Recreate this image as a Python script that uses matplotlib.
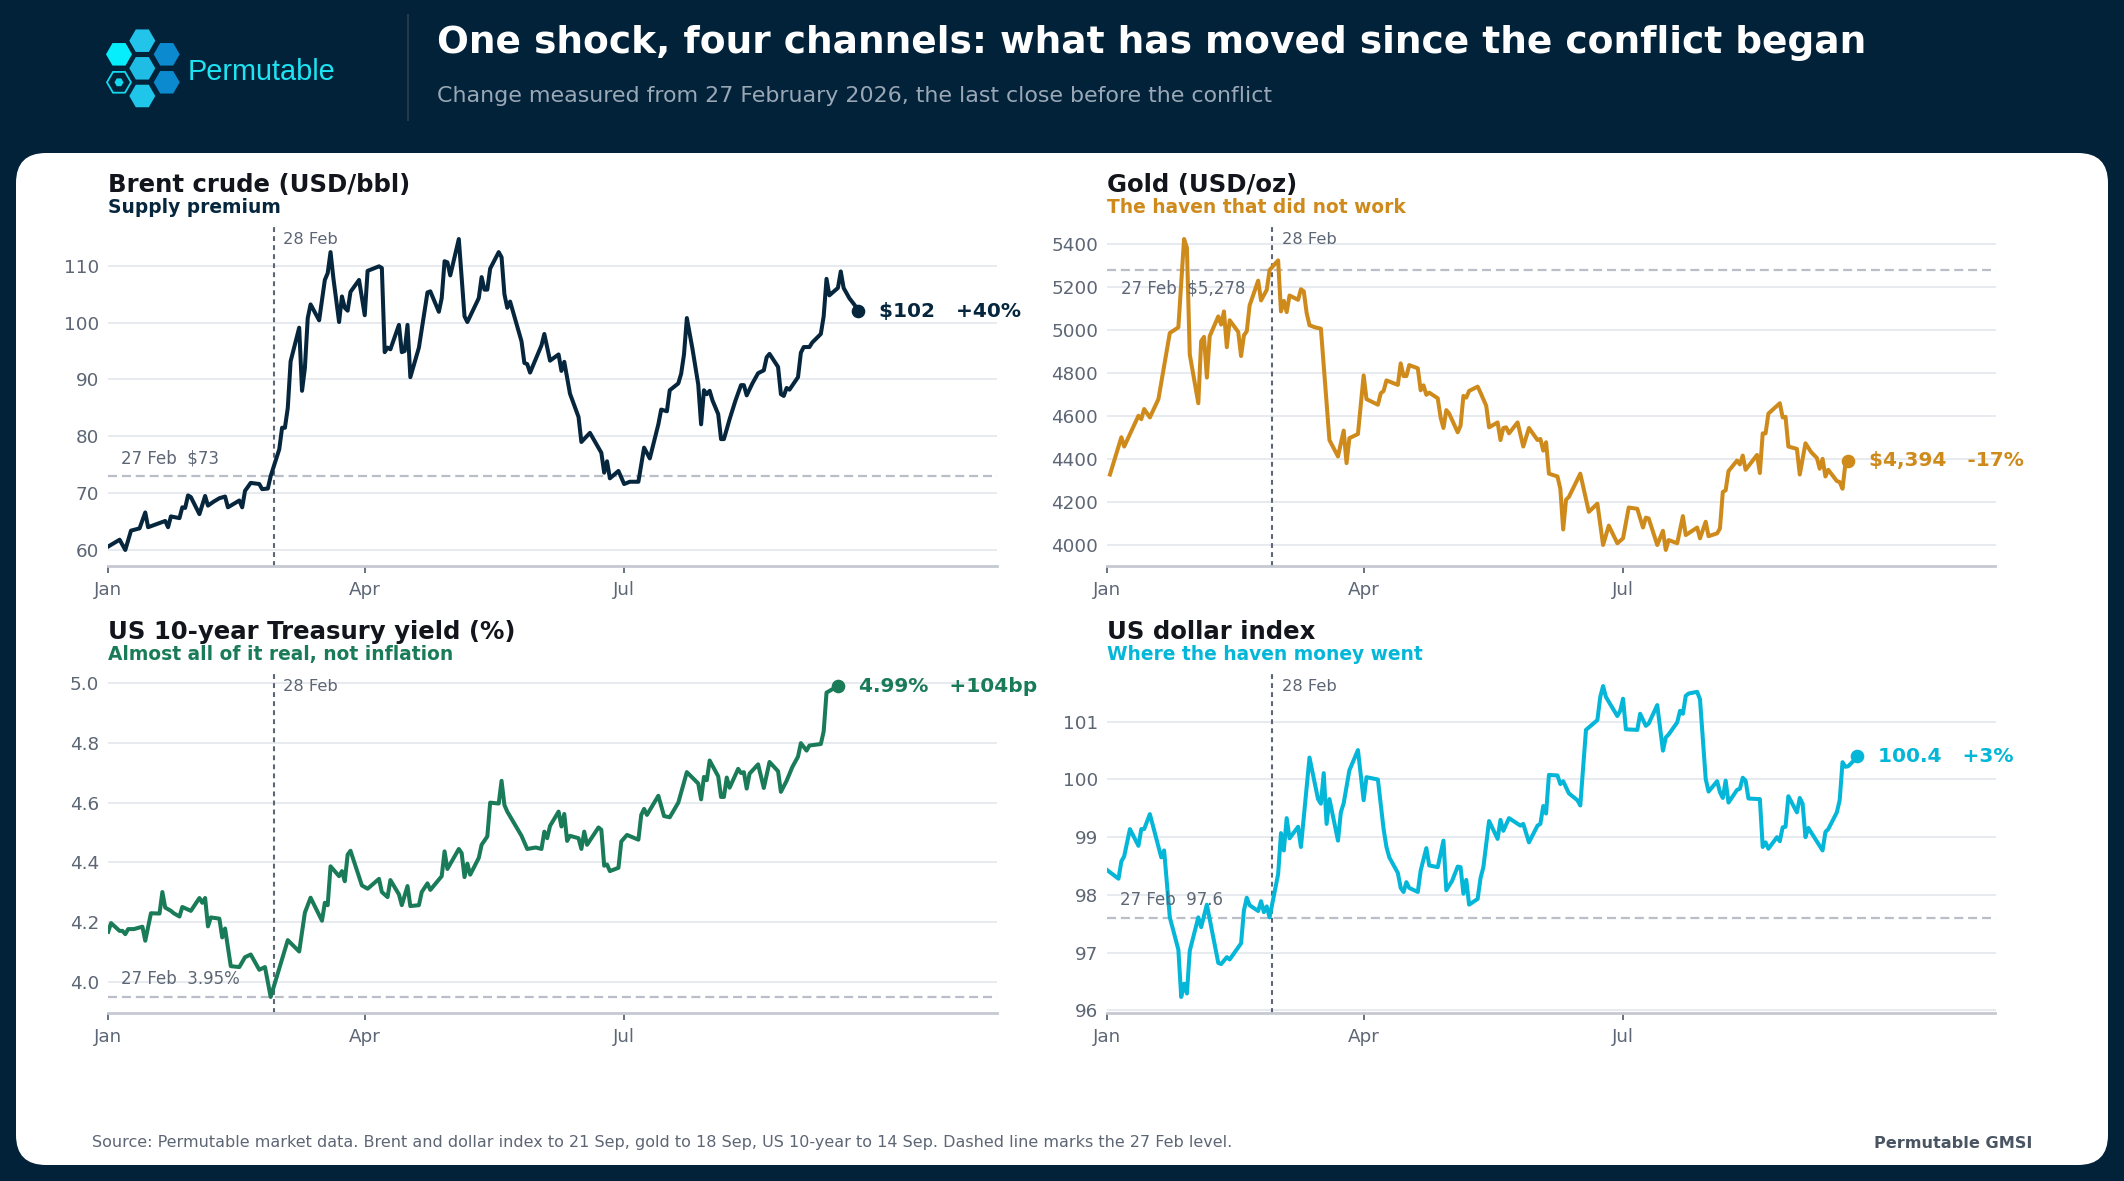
import matplotlib
matplotlib.use("Agg")
import matplotlib.pyplot as plt
from matplotlib.patches import FancyBboxPatch, RegularPolygon
from matplotlib.ticker import MultipleLocator, FormatStrFormatter
import matplotlib.dates as mdates
import numpy as np
import pandas as pd

plt.rcParams['font.family'] = ['DejaVu Sans']
plt.rcParams['lines.scale_dashes'] = False

START = pd.Timestamp("2026-01-01")
SHOCK = pd.Timestamp("2026-02-28")
XEND = pd.Timestamp("2026-11-08 16:00")

# ---- data: day = days since 1 Jan 2026 ----
brent_day = [0, 4, 6, 8, 11, 13, 14, 20, 21, 22,
             25, 26, 27, 28, 29, 32, 34, 35, 37, 39,
             41, 42, 46, 47, 48, 50, 53, 54, 56, 57,
             60, 61, 62, 63, 64, 67, 68, 69, 70, 71,
             74, 76, 77, 78, 79, 81, 82, 83, 84, 85,
             88, 90, 91, 95, 96, 97, 98, 99, 102, 103,
             104, 105, 106, 109, 112, 113, 116, 117, 118, 119,
             120, 123, 125, 126, 130, 131, 132, 133, 134, 137,
             138, 139, 140, 141, 145, 146, 147, 148, 152, 153,
             155, 158, 159, 160, 162, 165, 166, 169, 173, 174,
             175, 176, 179, 181, 183, 186, 188, 190, 193, 194,
             196, 197, 200, 201, 202, 203, 205, 207, 208, 209,
             210, 211, 212, 214, 215, 216, 218, 220, 222, 223,
             224, 226, 228, 230, 231, 232, 235, 236, 237, 238,
             239, 242, 243, 244, 246, 247, 248, 250, 251, 252,
             253, 256, 257, 258, 260, 262, 263]
brent_val = [60.6, 61.8, 60.0, 63.4, 63.8, 66.6, 64.0, 65.1, 64.0, 65.9,
             65.6, 67.5, 67.4, 69.6, 69.3, 66.3, 69.5, 67.8, 68.5, 69.1,
             69.4, 67.5, 68.7, 67.5, 70.4, 71.8, 71.6, 70.7, 70.8, 73.0,
             77.7, 81.5, 81.5, 85.0, 93.2, 99.1, 88.0, 92.0, 100.8, 103.2,
             100.4, 107.5, 108.7, 112.4, 107.8, 100.1, 104.6, 102.6, 102.1, 105.4,
             107.5, 101.3, 109.1, 109.9, 109.6, 94.8, 95.6, 95.3, 99.6, 94.8,
             95.0, 99.6, 90.4, 95.6, 105.3, 105.5, 101.9, 104.3, 110.8, 110.6,
             108.3, 114.7, 101.1, 100.1, 104.3, 108.0, 105.8, 105.8, 109.5, 112.4,
             111.5, 105.0, 102.6, 103.7, 96.7, 92.9, 92.7, 91.2, 96.0, 98.0,
             93.3, 94.4, 91.5, 93.1, 87.5, 83.4, 79.0, 80.6, 77.1, 73.6,
             75.6, 72.6, 73.9, 71.6, 72.0, 72.0, 78.0, 76.1, 82.1, 84.7,
             84.4, 88.1, 89.3, 91.0, 94.4, 100.8, 95.3, 89.1, 82.1, 88.1,
             87.4, 88.0, 86.3, 83.9, 79.5, 79.5, 83.0, 86.2, 89.0, 89.0,
             87.2, 89.3, 91.1, 91.6, 93.9, 94.5, 92.2, 87.4, 87.1, 88.5,
             88.2, 90.4, 94.7, 95.7, 95.7, 96.5, 97.0, 98.0, 101.1, 107.7,
             104.8, 106.1, 109.0, 106.1, 104.3, 103.0, 102.0]

gold_day = [1, 5, 6, 11, 12, 13, 15, 18, 20, 22,
            25, 27, 28, 29, 32, 33, 34, 35, 36, 39,
            40, 41, 42, 43, 46, 47, 48, 49, 50, 53,
            54, 56, 57, 60, 61, 62, 63, 64, 67, 68,
            69, 70, 71, 73, 75, 78, 81, 83, 84, 85,
            88, 90, 91, 95, 96, 97, 98, 102, 103, 104,
            105, 106, 109, 110, 111, 112, 113, 116, 117, 118,
            119, 120, 123, 124, 125, 126, 127, 130, 131, 133,
            134, 137, 138, 139, 140, 141, 144, 146, 148, 151,
            152, 153, 154, 155, 158, 159, 160, 161, 162, 166,
            169, 172, 174, 176, 179, 181, 183, 186, 188, 189,
            190, 193, 195, 196, 197, 200, 202, 203, 207, 208,
            210, 211, 214, 215, 216, 217, 218, 221, 222, 223,
            224, 228, 229, 230, 231, 232, 236, 237, 238, 239,
            242, 243, 245, 247, 249, 250, 251, 252, 253, 256,
            257, 258, 259, 260]
gold_val = [4329, 4502, 4459, 4602, 4586, 4633, 4594, 4679, 4832, 4986,
            5012, 5422, 5382, 4886, 4660, 4948, 4968, 4779, 4971, 5063,
            5025, 5086, 4920, 5045, 4991, 4879, 4975, 4994, 5114, 5229,
            5137, 5186, 5278, 5323, 5086, 5135, 5083, 5160, 5140, 5189,
            5179, 5079, 5022, 5012, 5006, 4489, 4413, 4533, 4382, 4498,
            4517, 4789, 4679, 4653, 4706, 4717, 4766, 4745, 4845, 4786,
            4786, 4837, 4822, 4720, 4743, 4699, 4709, 4683, 4594, 4545,
            4628, 4612, 4525, 4556, 4694, 4686, 4717, 4737, 4709, 4648,
            4548, 4571, 4489, 4545, 4548, 4520, 4571, 4459, 4545, 4489,
            4494, 4440, 4479, 4333, 4320, 4263, 4074, 4212, 4225, 4333,
            4156, 4194, 4002, 4092, 4010, 4033, 4176, 4170, 4083, 4129,
            4125, 4002, 4068, 3979, 4025, 4010, 4136, 4048, 4083, 4033,
            4110, 4043, 4056, 4079, 4248, 4256, 4345, 4394, 4376, 4417,
            4351, 4420, 4336, 4520, 4520, 4612, 4660, 4594, 4597, 4459,
            4448, 4329, 4474, 4433, 4406, 4356, 4402, 4320, 4351, 4299,
            4294, 4263, 4379, 4394]

ust_day = [0, 1, 4, 5, 6, 7, 9, 12, 13, 15,
           18, 19, 20, 22, 23, 25, 26, 29, 32, 33,
           34, 35, 36, 39, 40, 41, 43, 46, 48, 50,
           53, 55, 57, 63, 67, 69, 71, 75, 76, 77,
           78, 81, 82, 83, 84, 85, 89, 91, 95, 96,
           98, 99, 102, 103, 105, 106, 109, 110, 112, 113,
           117, 118, 119, 123, 124, 125, 126, 127, 130, 131,
           133, 134, 137, 138, 139, 140, 145, 147, 150, 152,
           153, 154, 155, 158, 159, 160, 161, 162, 165, 166,
           167, 168, 172, 173, 174, 175, 176, 179, 180, 182,
           186, 187, 188, 189, 193, 195, 197, 200, 203, 207,
           208, 209, 210, 211, 214, 215, 216, 217, 218, 221,
           222, 223, 224, 225, 228, 230, 232, 235, 236, 238,
           240, 242, 243, 245, 246, 250, 251, 252, 254, 256]
ust_val = [4.168, 4.197, 4.171, 4.171, 4.160, 4.177, 4.177, 4.185, 4.138, 4.230,
           4.229, 4.301, 4.249, 4.238, 4.230, 4.219, 4.251, 4.238, 4.281, 4.265,
           4.281, 4.186, 4.216, 4.212, 4.149, 4.179, 4.053, 4.050, 4.083, 4.092,
           4.041, 4.050, 3.950, 4.140, 4.102, 4.232, 4.282, 4.205, 4.265, 4.257,
           4.387, 4.354, 4.371, 4.337, 4.426, 4.439, 4.323, 4.312, 4.345, 4.301,
           4.284, 4.341, 4.293, 4.257, 4.321, 4.254, 4.257, 4.301, 4.330, 4.308,
           4.354, 4.437, 4.378, 4.445, 4.431, 4.351, 4.396, 4.359, 4.415, 4.459,
           4.487, 4.600, 4.597, 4.673, 4.592, 4.570, 4.489, 4.445, 4.450, 4.445,
           4.503, 4.481, 4.522, 4.570, 4.520, 4.562, 4.472, 4.489, 4.481, 4.445,
           4.503, 4.459, 4.517, 4.509, 4.389, 4.393, 4.371, 4.382, 4.470, 4.492,
           4.476, 4.559, 4.579, 4.559, 4.623, 4.555, 4.551, 4.600, 4.702, 4.664,
           4.611, 4.686, 4.675, 4.741, 4.688, 4.619, 4.619, 4.684, 4.650, 4.713,
           4.699, 4.702, 4.647, 4.697, 4.728, 4.649, 4.736, 4.705, 4.636, 4.673,
           4.719, 4.754, 4.799, 4.774, 4.791, 4.796, 4.838, 4.968, 4.979, 4.990]

dxy_day = [0, 4, 5, 6, 8, 11, 12, 13, 15, 19,
           20, 22, 25, 26, 27, 28, 29, 32, 33, 35,
           39, 40, 42, 43, 47, 48, 49, 50, 53, 54,
           55, 56, 57, 60, 61, 62, 63, 64, 67, 68,
           71, 74, 75, 76, 77, 78, 81, 82, 83, 85,
           88, 90, 91, 95, 97, 98, 99, 102, 103, 104,
           105, 106, 109, 110, 112, 113, 116, 118, 119, 121,
           123, 124, 125, 126, 127, 130, 131, 132, 134, 137,
           138, 139, 141, 145, 146, 148, 151, 152, 153, 154,
           155, 158, 159, 160, 162, 165, 166, 168, 172, 173,
           174, 175, 179, 180, 181, 182, 186, 187, 189, 190,
           193, 195, 196, 197, 200, 201, 202, 203, 204, 207,
           208, 210, 211, 214, 215, 216, 217, 218, 221, 222,
           223, 224, 225, 229, 230, 231, 232, 235, 236, 237,
           238, 239, 242, 243, 244, 245, 246, 251, 252, 253,
           256, 257, 258, 259, 260, 262, 263]
dxy_val = [98.43, 98.28, 98.58, 98.67, 99.14, 98.85, 99.14, 99.14, 99.40, 98.65,
           98.77, 97.61, 97.05, 96.23, 96.46, 96.29, 97.03, 97.61, 97.44, 97.83,
           96.82, 96.80, 96.92, 96.88, 97.16, 97.73, 97.95, 97.82, 97.72, 97.89,
           97.70, 97.80, 97.61, 98.36, 99.07, 98.77, 99.33, 98.98, 99.18, 98.83,
           100.38, 99.66, 99.58, 100.11, 99.23, 99.66, 98.94, 99.43, 99.59, 100.16,
           100.51, 99.64, 100.04, 100.00, 99.14, 98.83, 98.65, 98.38, 98.12, 98.05,
           98.22, 98.12, 98.05, 98.42, 98.81, 98.51, 98.48, 98.94, 98.08, 98.24,
           98.49, 98.48, 98.02, 98.26, 97.83, 97.93, 98.29, 98.48, 99.28, 98.97,
           99.30, 99.11, 99.33, 99.20, 99.23, 98.91, 99.20, 99.23, 99.54, 99.41,
           100.08, 100.07, 99.92, 99.97, 99.76, 99.64, 99.55, 100.86, 101.03, 101.43,
           101.62, 101.43, 101.10, 101.19, 101.40, 100.87, 100.86, 101.14, 100.93, 100.97,
           101.29, 100.50, 100.73, 100.78, 100.99, 101.19, 101.14, 101.45, 101.49, 101.52,
           101.39, 100.01, 99.79, 99.97, 99.78, 99.68, 99.98, 99.60, 99.82, 99.84,
           100.03, 99.98, 99.67, 99.66, 98.83, 98.91, 98.80, 99.00, 98.93, 99.17,
           99.18, 99.71, 99.43, 99.68, 99.58, 99.00, 99.16, 98.77, 99.09, 99.14,
           99.43, 99.64, 100.30, 100.22, 100.23, 100.33, 100.40]

titles = ["Brent crude (USD/bbl)", "Gold (USD/oz)",
          "US 10-year Treasury yield (%)", "US dollar index"]
subtitles = ["Supply premium", "The haven that did not work",
             "Almost all of it real, not inflation", "Where the haven money went"]
base_vals = [73, 5278, 3.95, 97.6]
base_labels = ["27 Feb  $73", "27 Feb  $5,278", "27 Feb  3.95%", "27 Feb  97.6"]
end_labels = ["$102   +40%", "$4,394   -17%", "4.99%   +104bp", "100.4   +3%"]

series_days = [brent_day, gold_day, ust_day, dxy_day]
series_vals = [brent_val, gold_val, ust_val, dxy_val]

# ---- styling ----
NAVY = "#02223a"
colors = ["#06263d", "#cf8a1c", "#1a7b59", "#04b6d7"]
tick_steps = [10, 200, 0.2, 1]
tick_fmts = ["%d", "%d", "%.1f", "%d"]
label_below = [False, True, False, False]
GREY = "#5d6675"

W, H = 2124, 1181
fig = plt.figure(figsize=(W / 100, H / 100), dpi=100, facecolor=NAVY)

# background layer in pixel coordinates
bg = fig.add_axes([0, 0, 1, 1], zorder=-5)
bg.set_xlim(0, W)
bg.set_ylim(H, 0)
bg.axis('off')
bg.add_patch(FancyBboxPatch((16, 153), 2092, 1012,
                            boxstyle="round,pad=0,rounding_size=30",
                            fc="white", ec="none"))

# logo
hexes = [(142.3, 40.7, "#22c4ea"), (119, 54.3, "#06eefc"), (166.7, 54.3, "#0b8ad0"),
         (142.3, 68.3, "#1fbde6"), (166.7, 82.3, "#0b8ad0"), (142.3, 96.0, "#20c5ea")]
for hx, hy, hc in hexes:
    bg.add_patch(RegularPolygon((hx, hy), 6, radius=13, orientation=np.pi / 6,
                                fc=hc, ec="none"))
bg.add_patch(RegularPolygon((119, 82.3), 6, radius=12, orientation=np.pi / 6,
                            fc="none", ec="#14d8ee", lw=1.3))
bg.add_patch(RegularPolygon((119, 82.3), 6, radius=4.5, orientation=np.pi / 6,
                            fc="#14d8ee", ec="none"))
bg.text(188, 80, "Permutable", color="#1de3f2", fontsize=20.8,
        family=["Liberation Sans", "DejaVu Sans"], va="baseline")
bg.plot([408, 408], [15, 120], color="#24394b", lw=1.5)

bg.text(437, 53, "One shock, four channels: what has moved since the conflict began",
        color="white", fontsize=27, fontweight="bold", va="baseline")
bg.text(437, 101.5, "Change measured from 27 February 2026, the last close before the conflict",
        color="#9aa8b6", fontsize=15.9, va="baseline")

bg.text(92, 1143, "Source: Permutable market data. Brent and dollar index to 21 Sep, gold to 18 Sep, "
        "US 10-year to 14 Sep. Dashed line marks the 27 Feb level.",
        color=GREY, fontsize=11.5, va="center")
bg.text(2032, 1143, "Permutable GMSI", color="#4a5563", fontsize=11.6,
        fontweight="bold", va="center", ha="right")

# chart panels
positions = [(108.2, 223.5), (1107.1, 223.5), (108.2, 670.5), (1107.1, 670.5)]
AW, AH = 888.4, 342

for i in range(4):
    x0, top = positions[i]
    c = colors[i]
    ax = fig.add_axes([x0 / W, 1 - (top + AH) / H, AW / W, AH / H])
    ax.set_facecolor("none")

    dates = START + pd.to_timedelta(series_days[i], unit="D")
    vals = series_vals[i]
    ax.plot(dates, vals, color=c, lw=2.9, solid_joinstyle="round", zorder=3)
    ax.plot(dates[-1], vals[-1], "o", ms=8.8, color=c, zorder=4)
    ax.annotate(end_labels[i], xy=(dates[-1], vals[-1]), xytext=(15, 0),
                textcoords="offset points", va="center", ha="left",
                color=c, fontsize=14.5, fontweight="bold", annotation_clip=False)

    ax.axhline(base_vals[i], color="#b9bec8", lw=1.6, dashes=(6.5, 3.5), zorder=2)
    ax.axvline(SHOCK, color=GREY, lw=1.5, dashes=(3.5, 3), zorder=2)
    ax.annotate("28 Feb", xy=(SHOCK, 1), xycoords=("data", "axes fraction"),
                xytext=(7, -14.8), textcoords="offset points", va="baseline",
                color=GREY, fontsize=11.7)
    if label_below[i]:
        off = (10, -17)
    else:
        off = (9.4, 9.1)
    ax.annotate(base_labels[i], xy=(0, base_vals[i]), xycoords=("axes fraction", "data"),
                xytext=off, textcoords="offset points", va="baseline",
                color=GREY, fontsize=12)

    ax.set_xlim(START, XEND)
    ax.xaxis.set_major_locator(mdates.MonthLocator(bymonth=[1, 4, 7]))
    ax.xaxis.set_major_formatter(mdates.DateFormatter("%b"))
    ax.yaxis.set_major_locator(MultipleLocator(tick_steps[i]))
    ax.yaxis.set_major_formatter(FormatStrFormatter(tick_fmts[i]))

    ax.yaxis.grid(True, color="#e3e8ee", lw=1.2)
    ax.set_axisbelow(True)
    for s in ["left", "top", "right"]:
        ax.spines[s].set_visible(False)
    ax.spines["bottom"].set_color("#c5c9d1")
    ax.spines["bottom"].set_linewidth(2)
    ax.tick_params(axis="y", length=0, pad=6.5, labelsize=13.2, labelcolor=GREY)
    ax.tick_params(axis="x", length=4.8, width=1.3, color=GREY, pad=6.3,
                   labelsize=13.2, labelcolor=GREY)

    bg.text(x0, top - 31.5, titles[i], color="#12161c", fontsize=17.6,
            fontweight="bold", va="baseline")
    bg.text(x0, top - 10.5, subtitles[i], color=c, fontsize=13.4,
            fontweight="bold", va="baseline")

fig.savefig("out.png", dpi=100, facecolor=fig.get_facecolor())
